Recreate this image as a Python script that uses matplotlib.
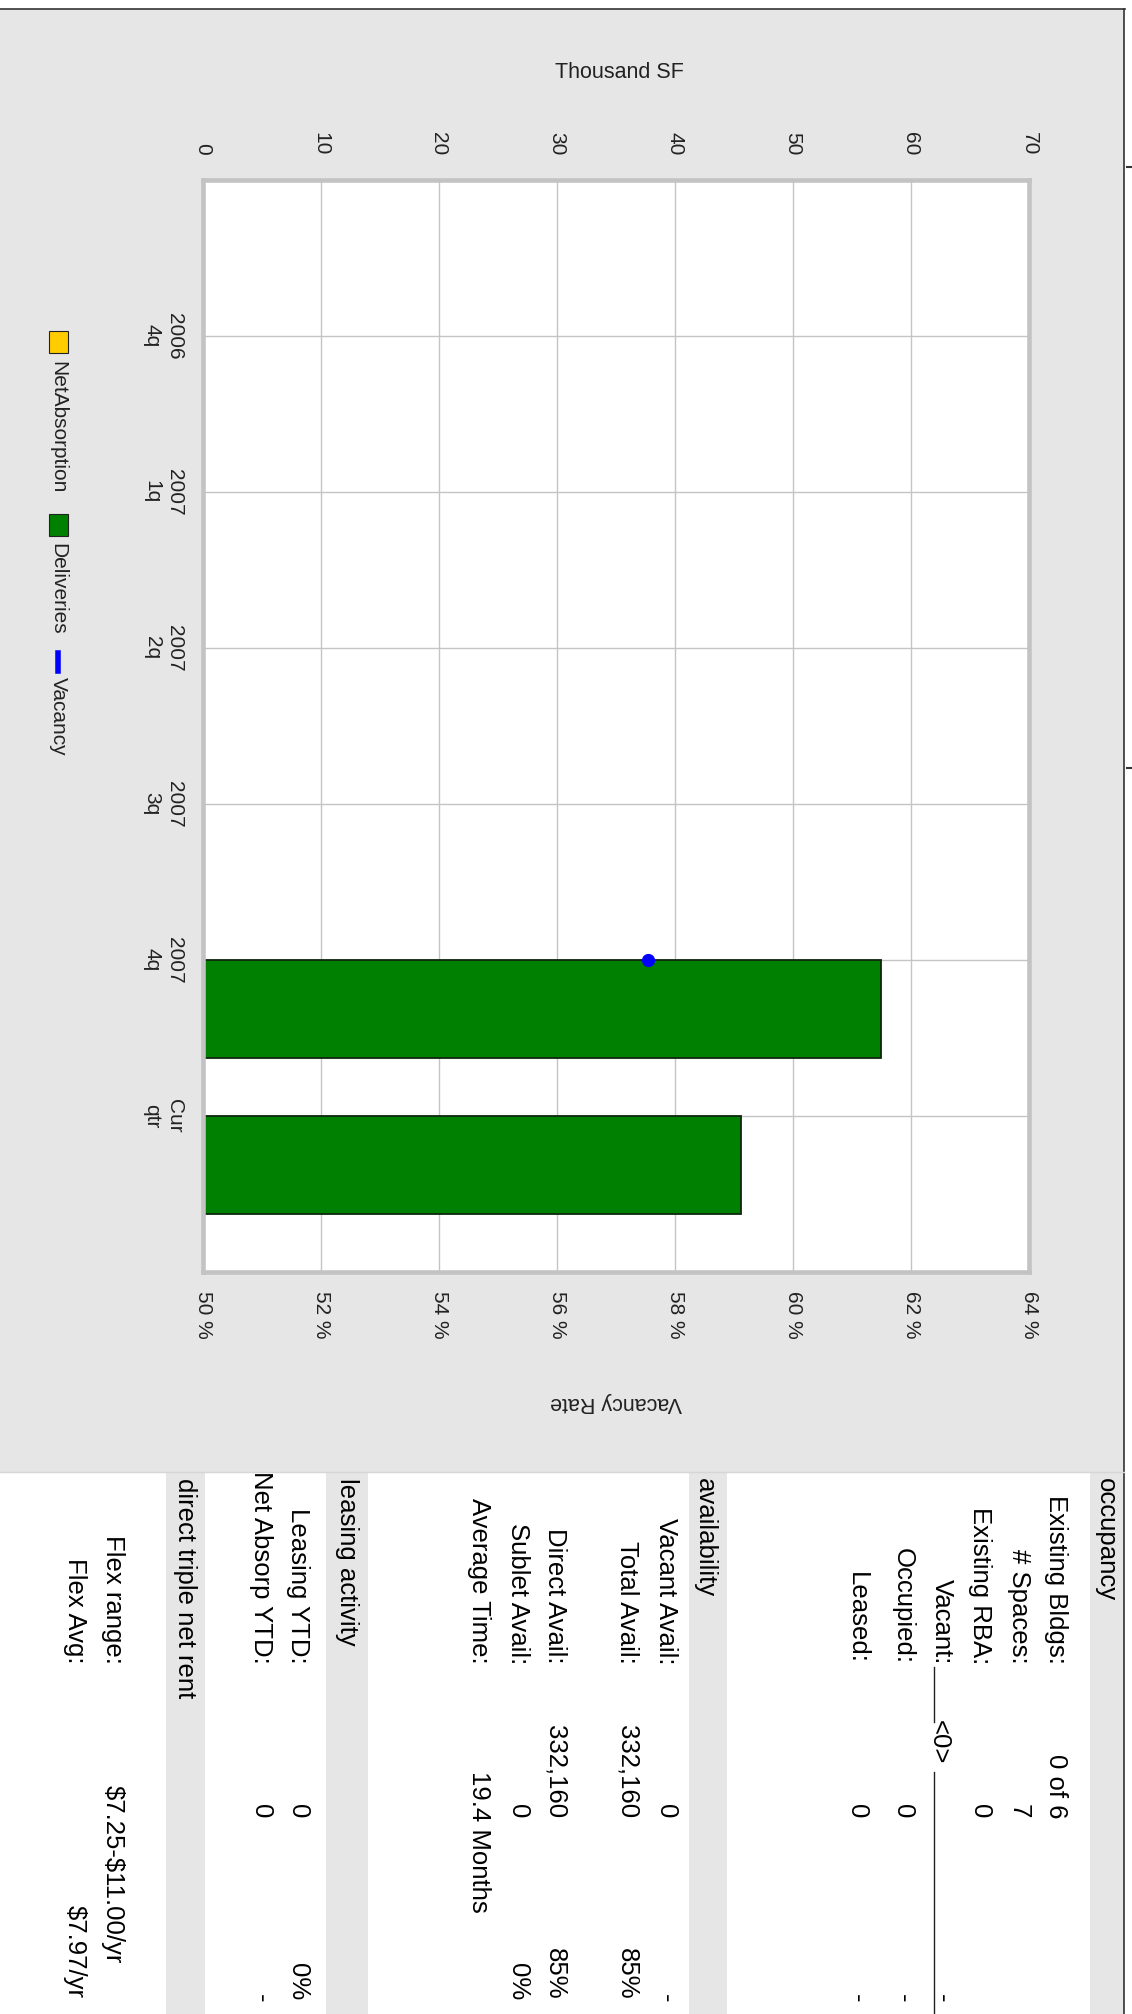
import numpy as np
import matplotlib
matplotlib.use('Agg')
import matplotlib.pyplot as plt
from matplotlib.patches import Rectangle
from matplotlib.lines import Line2D

plt.rcParams['font.family'] = ['Liberation Sans', 'DejaVu Sans']

# ---------------- data ----------------
quarters = ['2006\n4q', '2007\n1q', '2007\n2q', '2007\n3q', '2007\n4q', 'Cur\nqtr']
net_absorption = [0, 0, 0, 0, 0, 0]
deliveries = [0, 0, 0, 0, 57.5, 45.6]
vacancy = [np.nan, np.nan, np.nan, np.nan, 57.55, np.nan]
sf_ticks = [0, 10, 20, 30, 40, 50, 60, 70]
vac_ticks = [50, 52, 54, 56, 58, 60, 62, 64]
legend_labels = ['NetAbsorption', 'Deliveries', 'Vacancy']

sections = ['occupancy', 'availability', 'leasing activity', 'direct triple net rent']
row_labels = ['Existing Bldgs:', '# Spaces:', 'Existing RBA:', 'Vacant:', 'Occupied:', 'Leased:',
              'Vacant Avail:', 'Total Avail:', 'Direct Avail:', 'Sublet Avail:', 'Average Time:',
              'Leasing YTD:', 'Net Absorp YTD:',
              'Flex range:', 'Flex Avg:']
row_values = ['0 of 6', '7', '0', '<0>', '0', '0',
              '0', '332,160', '332,160', '0', '',
              '0', '0',
              '', '']
row_pcts = ['', '', '', '-', '-', '-',
            '-', '85%', '85%', '0%', '',
            '0%', '-',
            '', '']
long_values = {'Average Time:': '19.4 Months', 'Flex range:': '$7.25-$11.00/yr', 'Flex Avg:': '$7.97/yr'}

# ---------------- layout (pixels) ----------------
W, H = 1132, 2014
section_x = [1106, 705, 347, 185]
section_strip = [(1090, 1124), (689, 727), (326, 368), (166, 205)]
row_x = [1056, 1019, 980, 942, 903, 857,
         666, 627, 555, 518, 479,
         298, 261,
         113, 75]
long_start = {'Average Time:': 1771, 'Flex range:': 1785, 'Flex Avg:': 1905}
LABEL_END, VALUE_END, PCT_END, HEAD_START = 1664, 1818, 2000, 1478
TFS = 18.5

def fx(x):
    return x / W

def fy(y):
    return 1 - y / H

fig = plt.figure(figsize=(W / 100, H / 100), dpi=100)
fig.patch.set_facecolor('white')

# grey chart panel
fig.add_artist(Rectangle((fx(0), fy(1472)), fx(1124), fy(9) - fy(1472),
                         transform=fig.transFigure, facecolor='#e6e6e6', edgecolor='none', zorder=0))
fig.add_artist(Line2D([fx(0), fx(1125)], [fy(9), fy(9)], transform=fig.transFigure,
                      color='#333333', lw=1.2))
fig.add_artist(Line2D([fx(1124), fx(1124)], [fy(9), fy(2014)], transform=fig.transFigure,
                      color='#333333', lw=1.2))
fig.add_artist(Line2D([fx(0), fx(1124)], [fy(1472), fy(1472)], transform=fig.transFigure,
                      color='#d6d6d6', lw=1.0))
for yy in (167, 768):
    fig.add_artist(Line2D([fx(1127), fx(1131)], [fy(yy), fy(yy)], transform=fig.transFigure,
                          color='#333333', lw=1.5))

# ---------------- chart ----------------
ax = fig.add_axes([fx(203), fy(1272), fx(1029) - fx(203), fy(180) - fy(1272)])
ax.set_facecolor('white')
pos = np.arange(len(quarters))
ax.barh(pos, net_absorption, height=-0.63, align='edge', color='#ffcc00',
        edgecolor='#1a1a1a', linewidth=0, zorder=2)
ax.barh(pos, deliveries, height=0.63, align='edge', color='#008000',
        edgecolor='#0d260d', linewidth=1.3, zorder=2)
ax.set_xlim(0, 70)
ax.set_ylim(len(quarters), -1)
ax.grid(True, color='#c4c4c4', lw=1.0, zorder=0)
ax.set_axisbelow(True)
for s in ax.spines.values():
    s.set_color('#c3c3c3')
    s.set_linewidth(3.3)

ax2 = ax.twiny()
ax2.set_xlim(50, 64)
ax2.set_xticks(vac_ticks)
ax2.set_xticklabels([f'{t} %' for t in vac_ticks])
ax2.xaxis.set_ticks_position('bottom')
ax2.xaxis.set_label_position('bottom')
ax2.tick_params(axis='x', length=0, pad=14, labelsize=15, labelrotation=-90, colors='#222222')
for s in ax2.spines.values():
    s.set_visible(False)
ax2.plot(vacancy, pos, color='#0000ff', lw=2, marker='o', markersize=8.5, zorder=5)

# primary axis ticks (set after twiny, which resets them)
ax.set_xticks(sf_ticks)
ax.set_xticklabels([str(t) for t in sf_ticks])
ax.xaxis.set_ticks_position('top')
ax.tick_params(axis='x', length=0, pad=18, labelsize=15, labelrotation=-90, colors='#222222',
               labeltop=True, labelbottom=False)
ax.set_yticks(pos)
ax.set_yticklabels(quarters, rotation=-90, va='center', ha='right', multialignment='center')
ax.tick_params(axis='y', length=0, pad=14, labelsize=15, colors='#222222')

fig.text(fx(619), fy(72), 'Thousand SF', ha='center', va='center', fontsize=15.5, color='#222222')
fig.text(fx(616), fy(1402), 'Vacancy Rate', ha='center', va='center', fontsize=15.5,
         rotation=180, color='#222222')

# ---------------- legend (rotated) ----------------
leg_x = 58
fig.add_artist(Rectangle((fx(49), fy(353)), fx(19), fy(331) - fy(353), transform=fig.transFigure,
                         facecolor='#ffcc00', edgecolor='#222222', lw=0.8))
fig.text(fx(leg_x), fy(361), legend_labels[0], rotation=-90, ha='center', va='top', fontsize=15,
         color='#222222')
fig.add_artist(Rectangle((fx(49), fy(536)), fx(19), fy(514) - fy(536), transform=fig.transFigure,
                         facecolor='#008000', edgecolor='#222222', lw=0.8))
fig.text(fx(leg_x), fy(543), legend_labels[1], rotation=-90, ha='center', va='top', fontsize=15,
         color='#222222')
fig.add_artist(Line2D([fx(58), fx(58)], [fy(653), fy(671)], transform=fig.transFigure,
                      color='#0000ff', lw=4))
fig.text(fx(leg_x), fy(677), legend_labels[2], rotation=-90, ha='center', va='top', fontsize=15,
         color='#222222')

# ---------------- table (rotated) ----------------
for (x0, x1) in section_strip:
    fig.add_artist(Rectangle((fx(x0), fy(2014)), fx(x1) - fx(x0), fy(1473) - fy(2014),
                             transform=fig.transFigure, facecolor='#e6e6e6', edgecolor='none'))
for name, xc in zip(sections, section_x):
    fig.text(fx(xc), fy(HEAD_START), name, rotation=-90, ha='center', va='top', fontsize=TFS)

for lab, val, pct, xc in zip(row_labels, row_values, row_pcts, row_x):
    fig.text(fx(xc), fy(LABEL_END), lab, rotation=-90, ha='center', va='bottom', fontsize=TFS)
    if val == '<0>':
        fig.text(fx(xc - 3), fy(1742), val, rotation=-90, ha='center', va='center', fontsize=TFS)
        fig.add_artist(Line2D([fx(xc - 8), fx(xc - 8)], [fy(1667), fy(1722)],
                              transform=fig.transFigure, color='#222222', lw=1.0))
        fig.add_artist(Line2D([fx(xc - 8), fx(xc - 8)], [fy(1772), fy(2014)],
                              transform=fig.transFigure, color='#222222', lw=1.0))
    elif val:
        fig.text(fx(xc), fy(VALUE_END), val, rotation=-90, ha='center', va='bottom', fontsize=TFS)
    if pct == '-':
        fig.text(fx(xc), fy(1998), pct, rotation=-90, ha='center', va='center', fontsize=TFS)
    elif pct:
        fig.text(fx(xc), fy(PCT_END), pct, rotation=-90, ha='center', va='bottom', fontsize=TFS)
    if lab in long_values:
        txt = long_values[lab].replace('$', r'\$')
        fig.text(fx(xc), fy(long_start[lab]), txt, rotation=-90, ha='center', va='top',
                 fontsize=TFS)

fig.savefig('out.png', dpi=100)
